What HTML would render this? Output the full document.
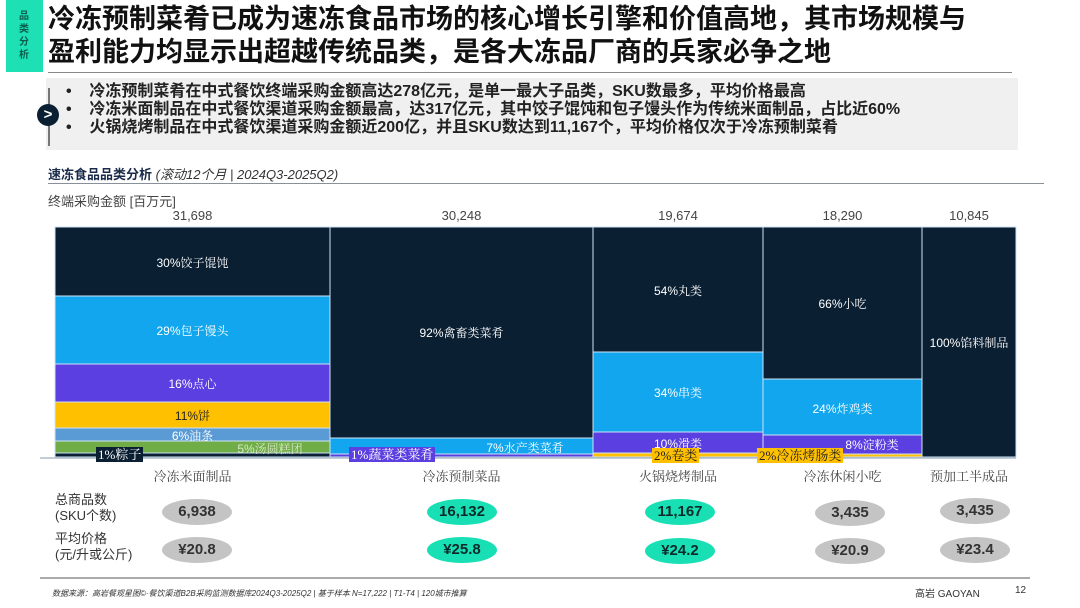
<!DOCTYPE html><html><head><meta charset="utf-8"><style>
body{margin:0;width:1080px;height:608px;background:#fff;position:relative;overflow:hidden;font-family:"Liberation Sans","Noto Sans CJK SC",sans-serif;}
.a{position:absolute;}
.s{position:absolute;color:#fff;font-size:12px;text-align:center;font-family:"Liberation Sans","Noto Serif CJK SC",sans-serif;}
.e{position:absolute;width:70px;height:26px;border-radius:50%;font-weight:bold;font-size:15px;text-align:center;line-height:26px;color:#333;}
.g{background:#c4c4c4}.t{background:#19dfb4;color:#0b2a2a}
.cat{position:absolute;top:466px;font-size:13px;color:#444;text-align:center;font-family:"Liberation Serif","Noto Serif CJK SC",serif;}
.tag{position:absolute;font-size:13px;padding:0 2px;line-height:15px;font-family:"Liberation Serif","Noto Serif CJK SC",serif;}
</style></head><body>
<div class="a" style="left:6px;top:0;width:37px;height:72px;background:#1de0b4;"></div>
<div class="a" style="left:19px;top:10px;width:12px;font-size:10px;line-height:13px;color:#0b5e4e;font-weight:bold;">品类分析</div>
<div class="a" style="left:48px;top:3px;font-size:27px;font-weight:bold;line-height:33px;color:#111;white-space:nowrap;">冷冻预制菜肴已成为速冻食品市场的核心增长引擎和价值高地，其市场规模与<br>盈利能力均显示出超越传统品类，是各大冻品厂商的兵家必争之地</div>
<div class="a" style="left:48px;top:72px;width:964px;height:1px;background:#888;"></div>
<div class="a" style="left:46px;top:78px;width:972px;height:72px;background:#f0f0f0;"></div>
<div class="a" style="left:48px;top:88px;width:2px;height:58px;background:#777;"></div>
<div class="a" style="left:37px;top:104px;width:22px;height:22px;border-radius:50%;background:#0b1f33;color:#fff;font-size:15px;line-height:21px;text-align:center;font-weight:bold;">&gt;</div>
<div class="a" style="left:66px;top:83px;font-size:16px;line-height:18px;font-weight:bold;color:#222;white-space:nowrap;">•&nbsp;&nbsp;&nbsp;&nbsp;冷冻预制菜肴在中式餐饮终端采购金额高达278亿元，是单一最大子品类，SKU数最多，平均价格最高<br>•&nbsp;&nbsp;&nbsp;&nbsp;冷冻米面制品在中式餐饮渠道采购金额最高，达317亿元，其中饺子馄饨和包子馒头作为传统米面制品，占比近60%<br>•&nbsp;&nbsp;&nbsp;&nbsp;火锅烧烤制品在中式餐饮渠道采购金额近200亿，并且SKU数达到11,167个，平均价格仅次于冷冻预制菜肴</div>
<div class="a" style="left:48px;top:164px;font-size:13px;color:#1a2a4a;white-space:nowrap;"><b>速冻食品品类分析</b> <i style="color:#333">(滚动12个月 | 2024Q3-2025Q2)</i></div>
<div class="a" style="left:48px;top:183px;width:996px;height:1px;background:#8a9099;"></div>
<div class="a" style="left:48px;top:191px;font-size:13px;color:#444;">终端采购金额 [百万元]</div>
<div class="a" style="left:55px;top:208px;width:275px;text-align:center;font-size:13px;color:#444">31,698</div>
<div class="a" style="left:330px;top:208px;width:263px;text-align:center;font-size:13px;color:#444">30,248</div>
<div class="a" style="left:593px;top:208px;width:170px;text-align:center;font-size:13px;color:#444">19,674</div>
<div class="a" style="left:763px;top:208px;width:159px;text-align:center;font-size:13px;color:#444">18,290</div>
<div class="a" style="left:922px;top:208px;width:94px;text-align:center;font-size:13px;color:#444">10,845</div>
<svg class="a" style="left:0;top:0" width="1080" height="608">
<g stroke="#cfe3f5" stroke-width="1">
<rect x="55" y="227" width="275" height="69" fill="#0b1f33"/>
<rect x="55" y="296" width="275" height="68" fill="#11a6ee"/>
<rect x="55" y="364" width="275" height="38" fill="#5b3fe0"/>
<rect x="55" y="402" width="275" height="26" fill="#ffc000"/>
<rect x="55" y="428" width="275" height="13" fill="#5b9bd5"/>
<rect x="55" y="441" width="275" height="12" fill="#70ad47"/>
<rect x="55" y="453" width="275" height="4" fill="#0b1f33"/>
<rect x="330" y="227" width="263" height="211" fill="#0b1f33"/>
<rect x="330" y="438" width="263" height="16" fill="#11a6ee"/>
<rect x="330" y="454" width="263" height="3" fill="#5b3fe0"/>
<rect x="593" y="227" width="170" height="125" fill="#0b1f33"/>
<rect x="593" y="352" width="170" height="80" fill="#11a6ee"/>
<rect x="593" y="432" width="170" height="21" fill="#5b3fe0"/>
<rect x="593" y="453" width="170" height="4" fill="#ffc000"/>
<rect x="763" y="227" width="159" height="152" fill="#0b1f33"/>
<rect x="763" y="379" width="159" height="56" fill="#11a6ee"/>
<rect x="763" y="435" width="159" height="19" fill="#5b3fe0"/>
<rect x="763" y="454" width="159" height="3" fill="#ffc000"/>
<rect x="922" y="227" width="94" height="230" fill="#0b1f33"/>
</g>
<line x1="40" y1="458" x2="1016" y2="458" stroke="#8a9aac" stroke-width="1"/>
<line x1="40" y1="578" x2="1030" y2="578" stroke="#555" stroke-width="1"/>
</svg>
<div class="s" style="left:55px;top:254px;width:275px;">30%饺子馄饨</div>
<div class="s" style="left:55px;top:322px;width:275px;">29%包子馒头</div>
<div class="s" style="left:55px;top:375px;width:275px;">16%点心</div>
<div class="s" style="left:55px;top:407px;width:275px;color:#222">11%饼</div>
<div class="s" style="left:55px;top:427px;width:275px;">6%油条</div>
<div class="s" style="left:210px;top:440px;width:120px;color:#d8e8c8">5%汤圆糕团</div>
<div class="tag" style="left:96px;top:447px;background:#0b1f33;color:#fff">1%粽子</div>
<div class="s" style="left:330px;top:324px;width:263px;">92%禽畜类菜肴</div>
<div class="s" style="left:460px;top:439px;width:130px;">7%水产类菜肴</div>
<div class="tag" style="left:349px;top:447px;background:#5b3fe0;color:#fff">1%蔬菜类菜肴</div>
<div class="s" style="left:593px;top:282px;width:170px;">54%丸类</div>
<div class="s" style="left:593px;top:384px;width:170px;">34%串类</div>
<div class="s" style="left:593px;top:435px;width:170px;">10%滑类</div>
<div class="tag" style="left:652px;top:448px;background:#ffc000;color:#222">2%卷类</div>
<div class="s" style="left:763px;top:295px;width:159px;">66%小吃</div>
<div class="s" style="left:763px;top:400px;width:159px;">24%炸鸡类</div>
<div class="s" style="left:822px;top:436px;width:100px;">8%淀粉类</div>
<div class="tag" style="left:757px;top:448px;background:#ffc000;color:#222">2%冷冻烤肠类</div>
<div class="s" style="left:922px;top:334px;width:94px;">100%馅料制品</div>
<div class="cat" style="left:55px;width:275px">冷冻米面制品</div>
<div class="cat" style="left:330px;width:263px">冷冻预制菜品</div>
<div class="cat" style="left:593px;width:170px">火锅烧烤制品</div>
<div class="cat" style="left:763px;width:159px">冷冻休闲小吃</div>
<div class="cat" style="left:922px;width:94px">预加工半成品</div>
<div class="a" style="left:55px;top:492px;font-size:13px;line-height:16px;color:#333">总商品数<br>(SKU个数)</div>
<div class="a" style="left:55px;top:531px;font-size:13px;line-height:16px;color:#333">平均价格<br>(元/升或公斤)</div>
<div class="e g" style="left:162px;top:499px">6,938</div>
<div class="e t" style="left:427px;top:499px">16,132</div>
<div class="e t" style="left:645px;top:499px">11,167</div>
<div class="e g" style="left:815px;top:500px">3,435</div>
<div class="e g" style="left:940px;top:498px">3,435</div>
<div class="e g" style="left:162px;top:537px">¥20.8</div>
<div class="e t" style="left:427px;top:537px">¥25.8</div>
<div class="e t" style="left:645px;top:538px">¥24.2</div>
<div class="e g" style="left:815px;top:538px">¥20.9</div>
<div class="e g" style="left:940px;top:537px">¥23.4</div>
<div class="a" style="left:52px;top:588px;font-size:8px;color:#333;font-style:italic;white-space:nowrap">数据来源：高岩餐观星图©·餐饮渠道B2B采购监测数据库2024Q3-2025Q2 | 基于样本 N=17,222 | T1-T4 | 120城市推算</div>
<div class="a" style="left:915px;top:585px;font-size:10px;color:#333">高岩 GAOYAN</div>
<div class="a" style="left:1015px;top:585px;font-size:10px;color:#333">12</div>
</body></html>
